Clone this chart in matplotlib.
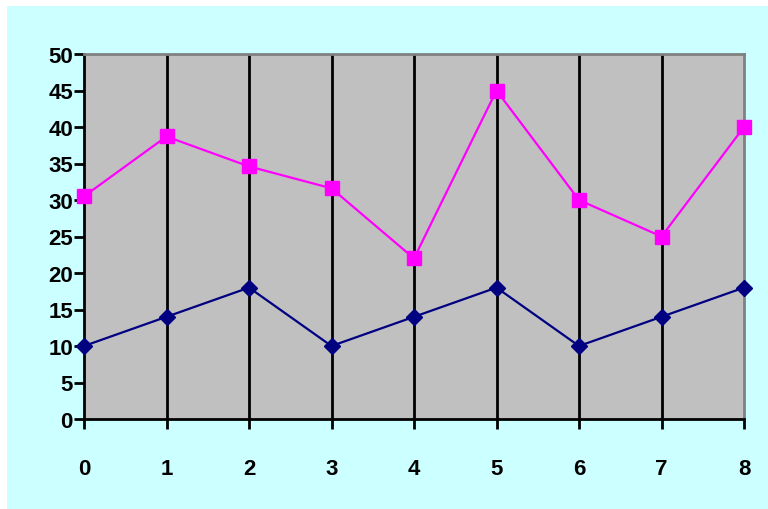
import matplotlib.pyplot as plt
from matplotlib.patches import Rectangle

x = [0, 1, 2, 3, 4, 5, 6, 7, 8]
navy_vals = [10, 14, 18, 10, 14, 18, 10, 14, 18]
pink_vals = [30.5, 38.7, 34.6, 31.6, 22, 45, 30, 25, 40]
yticks = [0, 5, 10, 15, 20, 25, 30, 35, 40, 45, 50]

plt.rcParams['font.family'] = ['Liberation Sans', 'DejaVu Sans']
plt.rcParams['font.weight'] = 'bold'

fig = plt.figure(figsize=(7.68, 5.10), dpi=100, facecolor='white')
# cyan chart area (white strip on top and left)
bg = Rectangle((7 / 768, 0), 1, 1 - 7 / 510, transform=fig.transFigure,
               facecolor='#CCFFFF', edgecolor='none', zorder=-10)
fig.add_artist(bg)

ax = fig.add_axes([84 / 768, 1 - 420 / 510, 660 / 768, 365 / 510], facecolor='#C0C0C0')
ax.set_zorder(1)

for xi in x[1:-1]:
    ax.axvline(xi, color='black', lw=2, zorder=1)

ax.plot(x, navy_vals, color='#000080', lw=1.6, marker='D', markersize=8,
        clip_on=False, zorder=3)
ax.plot(x, pink_vals, color='#FF00FF', lw=1.6, marker='s', markersize=10,
        clip_on=False, zorder=3)

ax.set_xlim(0, 8)
ax.set_ylim(0, 50)
ax.set_xticks(x)
ax.set_yticks(yticks)
ax.tick_params(axis='both', direction='out', length=7, width=2, labelsize=16,
               color='black')
ax.tick_params(axis='x', pad=21)
ax.tick_params(axis='y', pad=1)
for lab in ax.get_xticklabels() + ax.get_yticklabels():
    lab.set_fontweight('bold')

ax.spines['left'].set_linewidth(2)
ax.spines['bottom'].set_linewidth(2)
ax.spines['top'].set_color('#808080')
ax.spines['right'].set_color('#808080')
ax.spines['top'].set_linewidth(2)
ax.spines['right'].set_linewidth(2)

fig.savefig('out.png', dpi=100)
